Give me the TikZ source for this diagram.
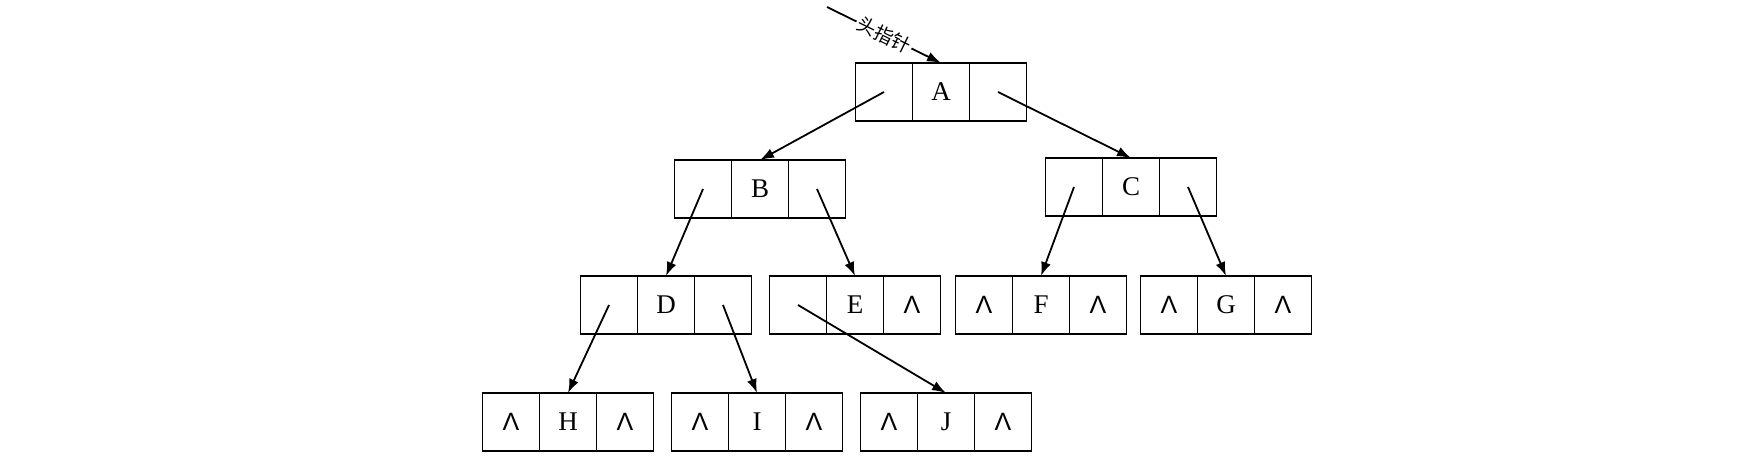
\documentclass[tikz,border=0pt]{standalone}
\usepackage{fontspec}
\setmainfont{Liberation Serif}
\newfontfamily\cjkfont{Noto Sans CJK SC}
\newfontfamily\nulfont{Liberation Sans}
\usetikzlibrary{positioning,arrows.meta}

\newcommand{\nul}{{\nulfont\fontsize{12.5}{14}\selectfont Λ}}

\begin{document}
\begin{tikzpicture}[
    x=0.5pt, y=-0.5pt,
    font=\fontsize{13.5}{16}\selectfont,
    >={Latex[length=7pt,width=5pt]},
    cell/.style={
        draw,
        line width=0.9pt,
        minimum width=28.5pt,
        minimum height=29pt,
        inner sep=0pt,
        outer sep=0pt
    },
    link/.style={
        ->,
        line width=0.9pt
    },
    headlabel/.style={
        font=\cjkfont\fontsize{9.5}{11}\selectfont,
        sloped,
        fill=white,
        inner sep=1pt
    }
]

\useasboundingbox (0,0) rectangle (1752,460);

% Tree nodes: data cell in the middle, child pointers either side
\foreach \n/\x/\y in {A/941/92, B/760/189, C/1131/187, D/666/305, E/855/305,
                      F/1041/305, G/1226/305, H/568/422, I/757/422, J/946/422} {
    \node[cell] (\n) at (\x,\y) {\n};
    \node[cell, left=0pt of \n] (\n-l) {};
    \node[cell, right=0pt of \n] (\n-r) {};
}

% Null pointers
\foreach \c in {E-r, F-l, F-r, G-l, G-r, H-l, H-r, I-l, I-r, J-l, J-r}
    \node (nul-\c) at (\c) {\nul};

% Child links
\foreach \p/\c in {A-l/B, A-r/C, B-l/D, B-r/E, C-l/F, C-r/G, D-l/H, D-r/I, E-l/J}
    \draw[link] (\p.center) -- (\c.north);

% Head pointer
\coordinate (head) at (827,7);
\draw[link] (head) -- node[headlabel] (headtext) {头指针} (A.north);

\end{tikzpicture}
\end{document}
